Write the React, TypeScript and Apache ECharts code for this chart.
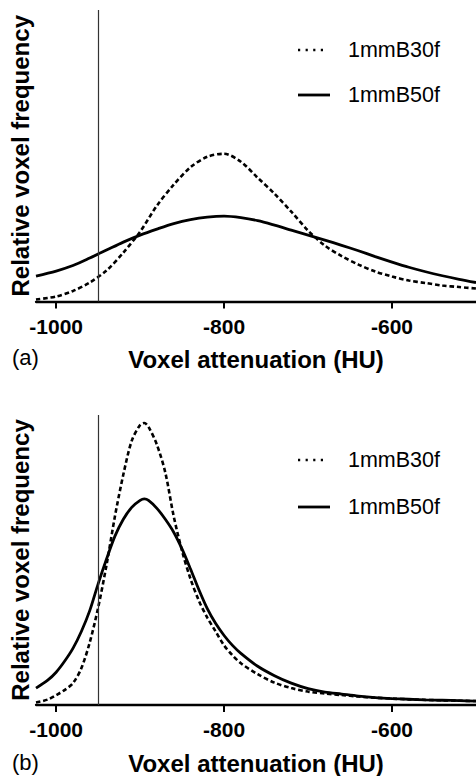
import React, { useEffect, useRef } from "react";
import * as echarts from "echarts";

// ---- Data (relative voxel frequency, arbitrary units) ----
const huA = [-1024, -1000, -980, -960, -940, -920, -900, -880, -860, -840, -820, -800, -780, -760, -740, -720, -700, -680, -660, -640, -620, -600, -580, -560, -540, -520, -500];
const a_B50f = [25.5, 30.5, 36, 43.5, 51.5, 59.5, 66.5, 72.5, 78, 82, 84.5, 85.5, 84, 81, 76.5, 71.5, 66.5, 61.5, 56.3, 50.8, 45, 39.5, 34.3, 29.8, 25.8, 22.2, 19];
const a_B30f = [2, 5, 10.5, 19, 31, 49, 70, 96, 117, 134.5, 145, 148, 140, 124, 108, 90, 71, 56, 45.5, 37, 30, 25, 21, 18.5, 16, 14.5, 13];

const huB = [-1024, -1010, -1000, -990, -980, -970, -960, -950, -940, -930, -920, -910, -900, -895, -890, -880, -870, -860, -850, -840, -830, -820, -810, -800, -790, -780, -760, -740, -720, -700, -680, -660, -640, -620, -600, -580, -560, -540, -520, -500];
const b_B50f = [17, 25, 33, 44, 57, 74, 95, 122, 147, 170, 187, 199, 206, 207.5, 206, 198, 187, 174, 157, 137, 116, 97, 82, 70, 60, 52, 39, 29.5, 22, 16.5, 13, 11, 9, 7.5, 6.5, 5.8, 5.2, 4.8, 4.4, 4];
const b_B30f = [2.5, 5.5, 10, 15, 22, 37, 63, 98, 141, 190, 232, 266, 282, 284, 280, 262, 234, 190, 155, 127, 105, 88, 74, 60, 50, 42, 31, 22.5, 17, 13.5, 11.5, 10, 8.5, 7.3, 6.4, 5.7, 5.1, 4.7, 4.3, 4];

const xTicks = [-1000, -800, -600];
const thresholdHU = -950;
const seriesNames = ["1mmB30f", "1mmB50f"];
const panelLabels = ["(a)", "(b)"];
const xTitle = "Voxel attenuation (HU)";
const yTitle = "Relative voxel frequency";

const FONT = "'Liberation Sans', Arial, Helvetica, sans-serif";

function pairs(xs: number[], ys: number[]) {
  return xs.map((x, i) => [x, ys[i]]);
}

export default function App() {
  const ref = useRef<HTMLDivElement>(null);
  useEffect(() => {
    if (!ref.current) return;
    const chart = echarts.init(ref.current, null, { renderer: "svg" });
    const grids = [
      { left: 36, right: 0, top: 10, height: 291.5 },
      { left: 36, right: 0, top: 415, height: 291.7 },
    ];
    const xAxes = grids.map((_, i) => ({
      type: "value",
      gridIndex: i,
      min: -1024,
      max: -500,
      name: xTitle,
      nameLocation: "middle",
      nameGap: 46,
      nameTextStyle: { fontFamily: FONT, fontWeight: "bold", fontSize: 24, color: "#000" },
      axisLine: { show: true, lineStyle: { color: "#000", width: 2.3 } },
      axisTick: { show: true, customValues: xTicks, length: 7, lineStyle: { color: "#000", width: 2 } },
      axisLabel: {
        show: true,
        customValues: xTicks,
        margin: 14,
        fontFamily: FONT,
        fontWeight: "bold",
        fontSize: 21,
        color: "#000",
        formatter: (v: number) => String(v),
      },
      splitLine: { show: false },
    }));
    const yAxes = grids.map((_, i) => ({
      type: "value",
      gridIndex: i,
      min: 0,
      max: 292,
      name: yTitle,
      nameLocation: "middle",
      nameGap: 4,
      nameTextStyle: { fontFamily: FONT, fontWeight: "bold", fontSize: 24, color: "#000" },
      axisLine: { show: false },
      axisTick: { show: false },
      axisLabel: { show: false },
      splitLine: { show: false },
    }));
    const mkSolid = (i: number, data: number[][]) => ({
      type: "line",
      name: seriesNames[1],
      xAxisIndex: i,
      yAxisIndex: i,
      data,
      smooth: 0.3,
      symbol: "none",
      lineStyle: { color: "#000", width: 2.8, type: "solid" },
      markLine: {
        silent: true,
        symbol: ["none", "none"],
        label: { show: false },
        lineStyle: { color: "#333", width: 1.2, type: "solid" },
        data: [{ xAxis: thresholdHU }],
      },
    });
    const mkDashed = (i: number, data: number[][]) => ({
      type: "line",
      name: seriesNames[0],
      xAxisIndex: i,
      yAxisIndex: i,
      data,
      smooth: 0.3,
      symbol: "none",
      lineStyle: { color: "#000", width: 2.6, type: [4.5, 2.8] },
    });

    const legendY = [
      [50, 95],
      [460, 507],
    ];
    const graphics: any[] = [];
    legendY.forEach(([y1, y2]) => {
      graphics.push({
        type: "line",
        shape: { x1: 298, y1: y1, x2: 324, y2: y1 },
        style: { stroke: "#000", lineWidth: 2.4, lineDash: [2.2, 5.4] },
      });
      graphics.push({
        type: "text",
        x: 348,
        y: y1,
        style: { text: seriesNames[0], fontFamily: FONT, fontSize: 21.5, fill: "#000", verticalAlign: "middle" },
      });
      graphics.push({
        type: "line",
        shape: { x1: 298, y1: y2, x2: 330, y2: y2 },
        style: { stroke: "#000", lineWidth: 2.8 },
      });
      graphics.push({
        type: "text",
        x: 348,
        y: y2,
        style: { text: seriesNames[1], fontFamily: FONT, fontSize: 21.5, fill: "#000", verticalAlign: "middle" },
      });
    });
    const labelY = [357, 762];
    labelY.forEach((y, i) => {
      graphics.push({
        type: "text",
        x: 12,
        y,
        style: { text: panelLabels[i], fontFamily: FONT, fontSize: 22, fill: "#000", verticalAlign: "middle" },
      });
    });

    chart.setOption({
      animation: false,
      backgroundColor: "#fff",
      grid: grids,
      xAxis: xAxes,
      yAxis: yAxes,
      series: [
        mkDashed(0, pairs(huA, a_B30f)),
        mkSolid(0, pairs(huA, a_B50f)),
        mkDashed(1, pairs(huB, b_B30f)),
        mkSolid(1, pairs(huB, b_B50f)),
      ],
      graphic: graphics,
    });
    return () => chart.dispose();
  }, []);
  return (
    <div
      ref={ref}
      style={{ position: "absolute", left: 0, top: 0, width: 476, height: 776, background: "#fff" }}
    />
  );
}
